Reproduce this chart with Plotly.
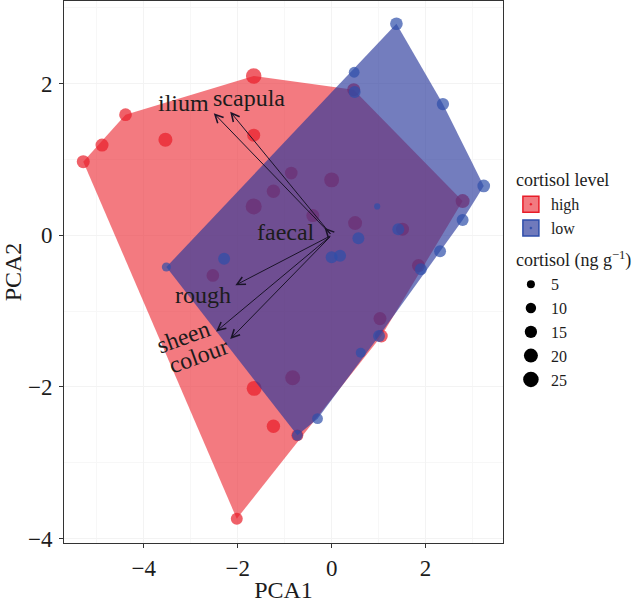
import plotly.graph_objects as go

# ---------------- data ----------------
high_x = [-5.29, -4.89, -4.39, -3.54, -1.66, -1.66, -0.86, 0.00, -1.24, -1.66, -0.40, -2.53,
          0.50, 1.51, 2.79, 0.47, 1.85, 1.03, 1.06, -0.83, -1.65, -1.24, -2.02, -0.73]
high_y = [0.97, 1.19, 1.59, 1.26, 2.10, 1.32, 0.82, 0.73, 0.58, 0.38, 0.26, -0.53,
          0.16, 0.08, 0.45, 1.92, -0.40, -1.10, -1.33, -1.88, -2.02, -2.52, -3.74, -2.64]
high_cortisol = [17, 17, 16, 20, 25, 17, 16, 23, 18, 27, 17, 16,
                 20, 17, 20, 17, 17, 17, 16, 23, 23, 18, 14, 14]

low_x = [1.38, 0.48, 0.49, 2.37, 3.24, 2.79, 2.31, 1.90, 1.42, 0.57, 0.97, 0.00, 0.18,
         -2.29, -3.52, 1.01, 0.62, -0.30, -0.73]
low_y = [2.79, 2.15, 1.89, 1.73, 0.65, 0.20, -0.21, -0.45, 0.08, -0.04, 0.38, -0.29, -0.27,
         -0.31, -0.42, -1.33, -1.55, -2.42, -2.64]
low_cortisol = [16, 11, 14, 15, 16, 14, 14, 14, 14, 14, 2, 14, 14,
                14, 7, 14, 9, 11, 11]

loading_names = ["ilium", "scapula", "faecal", "rough", "sheen", "colour"]
loading_x = [-2.51, -2.16, -0.15, -2.05, -2.46, -2.16]
loading_y = [1.61, 1.63, 0.10, -0.66, -1.27, -1.37]

size_legend_values = [5, 10, 15, 20, 25]
x_ticks = [-4, -2, 0, 2]
y_ticks = [-4, -2, 0, 2]

# ---------------- styles ----------------
FONT = "Liberation Serif"
RED = "rgb(232,28,40)"
RED_FILL = "rgba(235,40,50,0.62)"
BLUE = "rgb(46,78,170)"
BLUE_FILL = "rgba(40,55,155,0.65)"
INK = "#1c1c1c"

label_style = {
    "ilium":   dict(xshift=-30, yshift=10, textangle=0),
    "scapula": dict(xshift=19, yshift=14, textangle=0),
    "faecal":  dict(xshift=-39, yshift=-4, textangle=0),
    "rough":   dict(xshift=-32, yshift=-10, textangle=0),
    "sheen":   dict(xshift=-33, yshift=-5, textangle=-20),
    "colour":  dict(xshift=-32, yshift=-17, textangle=-20),
}


def diam(v):
    return (20 + 8.8 * v) ** 0.5


def convex_hull(xs, ys):
    pts = sorted(set(zip(xs, ys)))

    def cross(o, a, b):
        return (a[0] - o[0]) * (b[1] - o[1]) - (a[1] - o[1]) * (b[0] - o[0])

    lower, upper = [], []
    for p in pts:
        while len(lower) >= 2 and cross(lower[-2], lower[-1], p) <= 0:
            lower.pop()
        lower.append(p)
    for p in reversed(pts):
        while len(upper) >= 2 and cross(upper[-2], upper[-1], p) <= 0:
            upper.pop()
        upper.append(p)
    h = lower[:-1] + upper[:-1]
    h.append(h[0])
    return [p[0] for p in h], [p[1] for p in h]


fig = go.Figure()

hx, hy = convex_hull(high_x, high_y)
fig.add_trace(go.Scatter(x=hx, y=hy, mode="lines", fill="toself", fillcolor=RED_FILL,
                         line=dict(width=0), showlegend=False, hoverinfo="skip"))
fig.add_trace(go.Scatter(x=high_x, y=high_y, mode="markers",
                         marker=dict(color=RED, size=[diam(v) for v in high_cortisol], line=dict(width=0)),
                         showlegend=False))
lx, ly = convex_hull(low_x, low_y)
fig.add_trace(go.Scatter(x=lx, y=ly, mode="lines", fill="toself", fillcolor=BLUE_FILL,
                         line=dict(width=0), showlegend=False, hoverinfo="skip"))
fig.add_trace(go.Scatter(x=low_x, y=low_y, mode="markers",
                         marker=dict(color=BLUE, size=[diam(v) for v in low_cortisol], line=dict(width=0)),
                         showlegend=False))

# legend proxies
fig.add_trace(go.Scatter(x=[None], y=[None], mode="markers", name="high",
                         legendgroup="lvl", legendgrouptitle_text="cortisol level",
                         marker=dict(symbol="square-dot", size=30, color="rgb(242,122,128)",
                                     line=dict(color=RED, width=1.5))))
fig.add_trace(go.Scatter(x=[None], y=[None], mode="markers", name="low",
                         legendgroup="lvl",
                         marker=dict(symbol="square-dot", size=30, color="rgb(112,122,188)",
                                     line=dict(color=BLUE, width=1.5))))
for i, v in enumerate(size_legend_values):
    fig.add_trace(go.Scatter(x=[None], y=[None], mode="markers", name=str(v),
                             legendgroup="size",
                             legendgrouptitle_text="cortisol (ng g<sup>−1</sup>)" if i == 0 else None,
                             marker=dict(color="black", size=diam(v))))

# loading arrows and labels
for name, x, y in zip(loading_names, loading_x, loading_y):
    fig.add_annotation(x=x, y=y, ax=0, ay=0, xref="x", yref="y", axref="x", ayref="y",
                       text="", showarrow=True, arrowhead=5, arrowsize=1.6, arrowwidth=1,
                       arrowcolor="#1a1428", standoff=0, startstandoff=0)
    st = label_style[name]
    fig.add_annotation(x=x, y=y, xref="x", yref="y", text=name, showarrow=False,
                       xshift=st["xshift"], yshift=st["yshift"], textangle=st["textangle"],
                       font=dict(family=FONT, size=24, color=INK))

axis_common = dict(
    ticks="outside", ticklen=4, tickcolor="#333", tickwidth=1,
    showline=True, linecolor="#333", linewidth=1, mirror=True,
    showgrid=True, gridcolor="#F3F3F3", zeroline=False, automargin=False,
    tickfont=dict(family=FONT, size=23, color=INK),
)
fig.update_xaxes(range=[-5.70, 3.65], tickvals=x_ticks,
                 minor=dict(tickvals=[-5, -3, -1, 1, 3], showgrid=True, gridcolor="#F7F7F7"),
                 title=dict(text="PCA1", font=dict(family=FONT, size=24, color=INK), standoff=2),
                 ticklabelstandoff=0, **axis_common)
fig.update_yaxes(range=[-4.06, 3.09], tickvals=y_ticks,
                 minor=dict(tickvals=[-3, -1, 1, 3], showgrid=True, gridcolor="#F7F7F7"),
                 title=dict(text="PCA2", font=dict(family=FONT, size=24, color=INK), standoff=10),
                 ticklabelstandoff=2, **axis_common)

fig.update_layout(
    width=638, height=603,
    margin=dict(l=64, r=135, t=1, b=60, autoexpand=False),
    plot_bgcolor="white", paper_bgcolor="white",
    font=dict(family=FONT, color=INK),
    legend=dict(x=1.018, xanchor="left", y=0.705, yanchor="top",
                font=dict(family=FONT, size=16, color=INK),
                grouptitlefont=dict(family=FONT, size=18, color=INK),
                tracegroupgap=6, itemsizing="trace", bgcolor="rgba(0,0,0,0)"),
)

fig.write_html("out.html", config={"displayModeBar": False},
               post_script="document.body.style.margin='0';document.body.style.padding='0';")
